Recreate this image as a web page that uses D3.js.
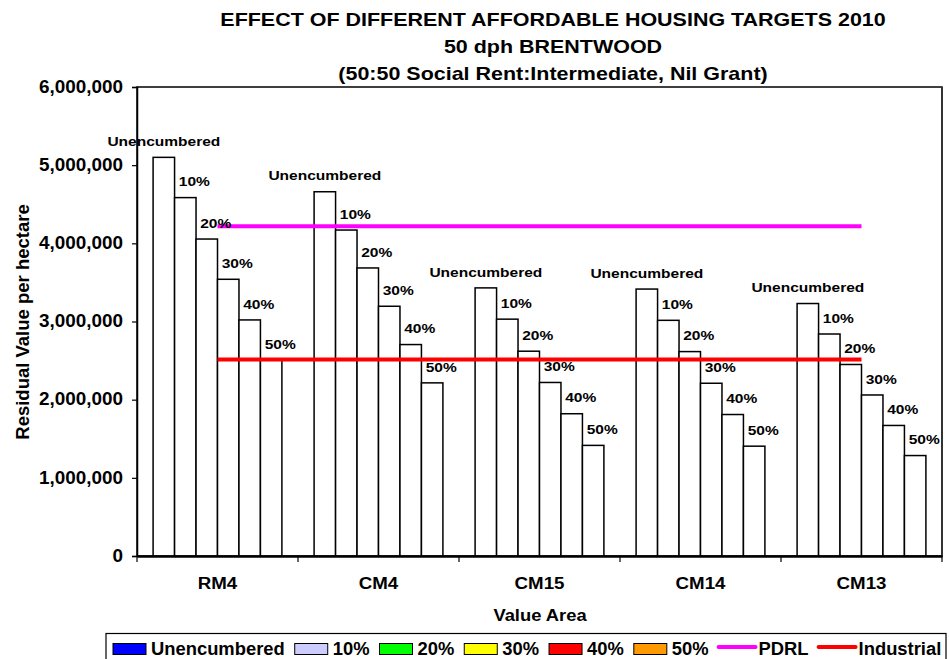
<!DOCTYPE html>
<html>
<head>
<meta charset="utf-8">
<script src="https://cdn.jsdelivr.net/npm/d3@7"></script>
<style>
  html, body { margin: 0; padding: 0; background: #fff; }
  svg { display: block; font-family: "Liberation Sans", Arial, sans-serif; }
</style>
</head>
<body>
<svg id="chart" width="949" height="659"></svg>
<script>
// ---- Data ----
const categories = ["RM4", "CM4", "CM15", "CM14", "CM13"];
const seriesNames = ["Unencumbered", "10%", "20%", "30%", "40%", "50%"];
const unencumbered = [5100000, 4660000, 3430000, 3415000, 3230000];
const pct10 = [4585000, 4170000, 3030000, 3015000, 2840000];
const pct20 = [4055000, 3685000, 2620000, 2615000, 2450000];
const pct30 = [3540000, 3195000, 2220000, 2210000, 2060000];
const pct40 = [3020000, 2705000, 1820000, 1810000, 1670000];
const pct50 = [2505000, 2215000, 1415000, 1405000, 1285000];
const pdrl = [4220000, 4220000, 4220000, 4220000, 4220000];
const industrial = [2515000, 2515000, 2515000, 2515000, 2515000];
const legendColors = ["#0000FF", "#CCCCFF", "#00FF00", "#FFFF00", "#FF0000", "#FF9900"];
const lineNames = ["PDRL", "Industrial"];
const lineColors = ["#FF00FF", "#FF0000"];
const yTickValues = [0, 1000000, 2000000, 3000000, 4000000, 5000000, 6000000];
const titleLines = ["EFFECT OF DIFFERENT AFFORDABLE HOUSING TARGETS 2010", "50 dph BRENTWOOD", "(50:50 Social Rent:Intermediate, Nil Grant)"];
const xTitle = "Value Area";
const yTitle = "Residual Value per hectare";

const seriesValues = [unencumbered, pct10, pct20, pct30, pct40, pct50];
const lineValues = [pdrl, industrial];

// ---- Layout ----
const svg = d3.select("#chart");
const plot = { left: 137, right: 942, top: 87, bottom: 556 };

const x0 = d3.scaleBand().domain(categories).range([plot.left, plot.right]).paddingInner(0.2).paddingOuter(0.1);
const x1 = d3.scaleBand().domain(seriesNames).range([0, x0.bandwidth()]).padding(0);
const y = d3.scaleLinear().domain([0, 6000000]).range([plot.bottom, plot.top]);
const fmt = d3.format(",");

function stretchText(g, str, x, yy, size, sx, anchor, baseline) {
  const t = g.append("text")
    .attr("transform", `translate(${x},${yy}) scale(${sx},1)`)
    .attr("font-size", size)
    .attr("font-weight", "bold")
    .attr("text-anchor", anchor || "start")
    .attr("fill", "#000")
    .text(str);
  if (baseline) t.attr("dominant-baseline", baseline);
  return t;
}

// Title
const titleBaselines = [26, 53, 80];
titleLines.forEach((s, i) => stretchText(svg, s, 553, titleBaselines[i], 19, 1.13, "middle"));

// Plot frame
svg.append("rect")
  .attr("x", plot.left).attr("y", plot.top)
  .attr("width", plot.right - plot.left).attr("height", plot.bottom - plot.top)
  .attr("fill", "none").attr("stroke", "#000").attr("stroke-width", 1.5);
svg.append("line")
  .attr("x1", plot.right).attr("x2", plot.right).attr("y1", plot.top).attr("y2", plot.bottom)
  .attr("stroke", "#333").attr("stroke-width", 2);

// Bars
const groups = svg.append("g").selectAll("g")
  .data(categories).join("g")
  .attr("transform", d => `translate(${x0(d)},0)`);

groups.each(function(cat, ci) {
  const g = d3.select(this);
  seriesNames.forEach((sn, si) => {
    const v = seriesValues[si][ci];
    g.append("rect")
      .attr("x", x1(sn)).attr("y", y(v))
      .attr("width", x1.bandwidth()).attr("height", y(0) - y(v))
      .attr("fill", "#fff").attr("stroke", "#000").attr("stroke-width", 1.5);
  });
});

// Lines
const line = d3.line()
  .x((d, i) => x0(categories[i]) + x0.bandwidth() / 2)
  .y(d => y(d));
lineValues.forEach((vals, i) => {
  svg.append("path").datum(vals)
    .attr("d", line).attr("fill", "none")
    .attr("stroke", lineColors[i]).attr("stroke-width", 4);
});

// Bar labels
const labelG = svg.append("g");
categories.forEach((cat, ci) => {
  seriesNames.forEach((sn, si) => {
    const v = seriesValues[si][ci];
    const cx = x0(cat) + x1(sn) + x1.bandwidth() / 2 + (si === 0 ? 0 : 9);
    stretchText(labelG, sn, cx, y(v) - 16, 13.5, 1.15, "middle", "central");
  });
});

// Y axis
const yAxis = d3.axisLeft(y).tickValues(yTickValues).tickFormat(fmt).tickSize(5).tickPadding(0);
const yg = svg.append("g").attr("transform", `translate(${plot.left},0)`).call(yAxis);
yg.select(".domain").attr("stroke", "#000").attr("stroke-width", 1.5);
yg.selectAll(".tick line").attr("stroke", "#000").attr("stroke-width", 1.2);
yg.selectAll(".tick text").remove();
yTickValues.forEach(v => stretchText(svg, fmt(v), 123, y(v), 17.5, 1.08, "end", "central"));

// X axis
const xAxis = d3.axisBottom(x0).tickSize(0).tickFormat("");
const xg = svg.append("g").attr("transform", `translate(0,${plot.bottom})`).call(xAxis);
xg.select(".domain").attr("stroke", "#000").attr("stroke-width", 2.5);
const boundaries = categories.map(c => x0(c) - x0.step() * x0.paddingInner() / 2);
boundaries[0] = plot.left;
boundaries.push(plot.right);
boundaries.forEach(bx => {
  svg.append("line").attr("x1", bx).attr("x2", bx)
    .attr("y1", plot.bottom).attr("y2", plot.bottom + 6)
    .attr("stroke", "#000").attr("stroke-width", 1.2);
});
categories.forEach(c => stretchText(svg, c, x0(c) + x0.bandwidth() / 2, 583, 17, 1.1, "middle", "central"));

// Axis titles
stretchText(svg, xTitle, 540, 615, 17, 1.08, "middle", "central");
svg.append("text")
  .attr("transform", `translate(22,322) rotate(-90)`)
  .attr("font-size", 18.5).attr("font-weight", "bold")
  .attr("text-anchor", "middle").attr("dominant-baseline", "central")
  .text(yTitle);

// Legend
const legend = svg.append("g");
legend.append("rect")
  .attr("x", 106).attr("y", 633.5).attr("width", 840).attr("height", 40)
  .attr("fill", "#fff").attr("stroke", "#000").attr("stroke-width", 1.2);
let lx = 113;
const ly = 649;
seriesNames.forEach((sn, i) => {
  legend.append("rect")
    .attr("x", lx).attr("y", ly - 5.5).attr("width", 33).attr("height", 11)
    .attr("fill", legendColors[i]).attr("stroke", "#000").attr("stroke-width", 1);
  lx += 33 + 5;
  const t = stretchText(legend, sn, lx, ly, 17.5, 1.05, "start", "central");
  lx += t.node().getComputedTextLength() * 1.05 + 10;
});
lineNames.forEach((ln, i) => {
  legend.append("line")
    .attr("x1", lx).attr("x2", lx + 37).attr("y1", ly - 2).attr("y2", ly - 2)
    .attr("stroke", lineColors[i]).attr("stroke-width", 4).attr("stroke-linecap", "round");
  lx += 37 + 3;
  const t = stretchText(legend, ln, lx, ly, 17.5, 1.05, "start", "central");
  lx += t.node().getComputedTextLength() * 1.05 + 10;
});
</script>
</body>
</html>
